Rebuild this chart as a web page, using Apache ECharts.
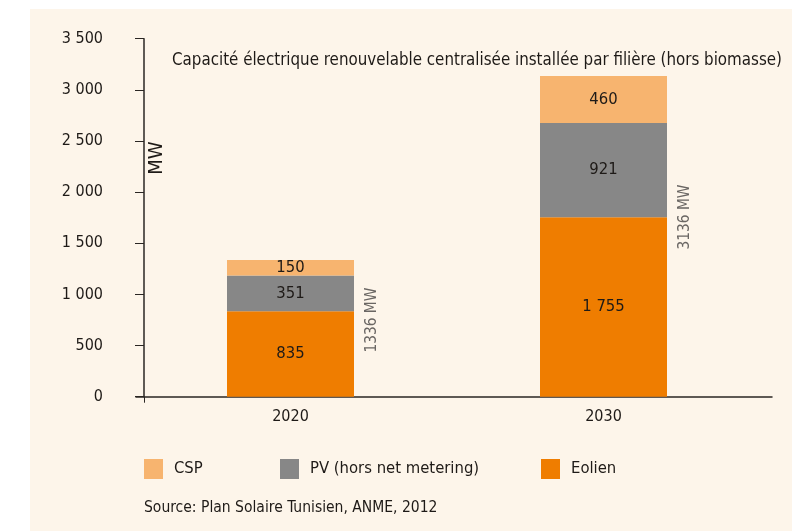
<!DOCTYPE html>
<html><head><meta charset="utf-8">
<script src="https://cdn.jsdelivr.net/npm/echarts@6/dist/echarts.min.js"></script>
<style>html,body{margin:0;padding:0;background:#fff}#c{width:792px;height:531px}</style>
</head><body><div id="c"></div>
<script>
const categories = ['2020', '2030'];
const eolien = [835, 1755];
const pv = [351, 921];
const csp = [150, 460];
const yTicks = [0, 500, 1000, 1500, 2000, 2500, 3000, 3500];
const seriesNames = ['CSP', 'PV (hors net metering)', 'Eolien'];
const totals = categories.map((c, i) => eolien[i] + pv[i] + csp[i]);

const FONT = '"DejaVu Sans Condensed", "Liberation Sans Narrow", "DejaVu Sans", sans-serif';
const DARK = '#1e1a17';
const AX = '#2a2623';
const C_EOL = '#ef7d00', C_PV = '#878787', C_CSP = '#f7b46f';
const fmt = v => String(v).replace(/\B(?=(\d{3})+(?!\d))/g, ' ');

const chart = echarts.init(document.getElementById('c'), null, {renderer: 'canvas'});
const lbl = {show: true, position: 'inside', color: DARK, fontFamily: FONT, fontSize: 16.5, formatter: p => fmt(p.value)};
function legend(name, left) {
  return {data: [name], left: left, top: 459, padding: 0, itemWidth: 19, itemHeight: 20, itemGap: 0,
    icon: 'rect', selectedMode: false,
    textStyle: {fontFamily: FONT, fontSize: 16.5, color: DARK, padding: [0, 0, 0, 6]}};
}
const TOP = 38.7, BOTTOM = 531 - 396.7;
chart.setOption({
  backgroundColor: '#fff',
  animation: false,
  graphic: [
    {type: 'rect', left: 30, top: 9, shape: {width: 762, height: 522}, style: {fill: '#fdf5ea'}, z: -10, silent: true},
    {type: 'text', x: 157, y: 158, rotation: Math.PI / 2, style: {text: 'MW', fontFamily: FONT, fontSize: 20, fill: DARK, align: 'center', verticalAlign: 'middle'}},
    {type: 'text', left: 172, top: 52, style: {text: 'Capacité électrique renouvelable centralisée installée par filière (hors biomasse)', fontFamily: FONT, fontSize: 16.8, fill: DARK}},
    {type: 'text', left: 144, top: 500, style: {text: 'Source: Plan Solaire Tunisien, ANME, 2012', fontFamily: FONT, fontSize: 15.5, fill: DARK}}
  ],
  legend: [legend('CSP', 144), legend('PV (hors net metering)', 280), legend('Eolien', 541)],
  grid: [
    {left: 134, right: 32, top: TOP, bottom: BOTTOM},
    {left: 136, right: 20, top: TOP, bottom: BOTTOM}
  ],
  xAxis: [
    {type: 'category', data: categories, gridIndex: 0,
      axisLine: {show: false}, axisTick: {show: false},
      axisLabel: {color: DARK, fontFamily: FONT, fontSize: 16, margin: 12}},
    {type: 'value', gridIndex: 1, min: 0, max: 636, splitLine: {show: false},
      axisLine: {show: true, lineStyle: {color: AX, width: 1.5}},
      axisTick: {show: true, customValues: [8], length: 6, lineStyle: {color: AX}},
      axisLabel: {show: false}}
  ],
  yAxis: [
    {type: 'value', gridIndex: 0, min: 0, max: 3500, interval: 500, offset: -10,
      splitLine: {show: false},
      axisLine: {show: true, lineStyle: {color: AX, width: 1.5}},
      axisTick: {show: true, length: 9, lineStyle: {color: AX}},
      axisLabel: {formatter: v => fmt(v), color: DARK, fontFamily: FONT, fontSize: 16, margin: 41}},
    {type: 'value', gridIndex: 1, min: 0, max: 1, show: false}
  ],
  series: [
    {name: 'Eolien', type: 'bar', stack: 's', barWidth: 127, barGap: '-100%', data: eolien, itemStyle: {color: C_EOL}, label: lbl},
    {name: 'PV (hors net metering)', type: 'bar', stack: 's', barWidth: 127, data: pv, itemStyle: {color: C_PV}, label: lbl},
    {name: 'CSP', type: 'bar', stack: 's', barWidth: 127, data: csp, itemStyle: {color: C_CSP}, label: lbl},
    {name: 'total', type: 'bar', barWidth: 127, barGap: '-100%', z: 1, silent: true,
      data: totals,
      itemStyle: {color: 'rgba(0,0,0,0)'},
      label: {show: true, position: ['114%', '44%'], rotate: 90, align: 'center', verticalAlign: 'middle',
        color: '#6a6663', fontFamily: FONT, fontSize: 15.3, formatter: p => p.value + ' MW'}}
  ]
});
</script></body></html>
